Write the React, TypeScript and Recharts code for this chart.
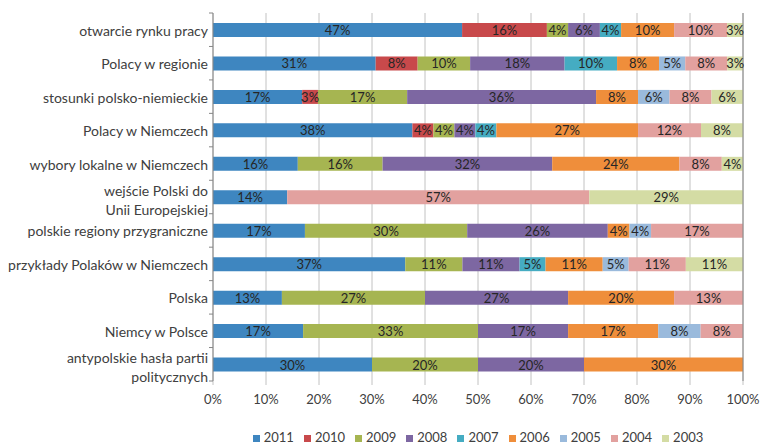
import {
  BarChart,
  Bar,
  XAxis,
  YAxis,
  CartesianGrid,
  Legend,
  LabelList,
  ReferenceLine,
} from "recharts";

const categories = [
  "otwarcie rynku pracy",
  "Polacy w regionie",
  "stosunki polsko-niemieckie",
  "Polacy w Niemczech",
  "wybory lokalne w Niemczech",
  "wejście Polski do\nUnii Europejskiej",
  "polskie regiony przygraniczne",
  "przykłady Polaków w Niemczech",
  "Polska",
  "Niemcy w Polsce",
  "antypolskie hasła partii\npolitycznych",
];

const s2011 = [47, 31, 17, 38, 16, 14, 17, 37, 13, 17, 30];
const s2010 = [16, 8, 3, 4, 0, 0, 0, 0, 0, 0, 0];
const s2009 = [4, 10, 17, 4, 16, 0, 30, 11, 27, 33, 20];
const s2008 = [6, 18, 36, 4, 32, 0, 26, 11, 27, 17, 20];
const s2007 = [4, 10, 0, 4, 0, 0, 0, 5, 0, 0, 0];
const s2006 = [10, 8, 8, 27, 24, 0, 4, 11, 20, 17, 30];
const s2005 = [0, 5, 6, 0, 0, 0, 4, 5, 0, 8, 0];
const s2004 = [10, 8, 8, 12, 8, 57, 17, 11, 13, 8, 0];
const s2003 = [3, 3, 6, 8, 4, 29, 0, 11, 0, 0, 0];

const xTicks = [0, 0.1, 0.2, 0.3, 0.4, 0.5, 0.6, 0.7, 0.8, 0.9, 1];

const series = [
  { key: "y2011", name: "2011", values: s2011, color: "#3E86C0" },
  { key: "y2010", name: "2010", values: s2010, color: "#C8494B" },
  { key: "y2009", name: "2009", values: s2009, color: "#A6B551" },
  { key: "y2008", name: "2008", values: s2008, color: "#7D67A2" },
  { key: "y2007", name: "2007", values: s2007, color: "#45ACC2" },
  { key: "y2006", name: "2006", values: s2006, color: "#EF8E3B" },
  { key: "y2005", name: "2005", values: s2005, color: "#9ABADC" },
  { key: "y2004", name: "2004", values: s2004, color: "#E2A19F" },
  { key: "y2003", name: "2003", values: s2003, color: "#D4DCA4" },
];

const data = categories.map((name, i) => {
  const row: Record<string, string | number> = { name };
  series.forEach((s) => {
    row[s.key] = s.values[i];
  });
  return row;
});

const FONT = "Lato, 'Open Sans', sans-serif";
const TICK_SIZE = 5;
const TICK_MARGIN = 0;

// category label, plus the small outside tick at the band edges
function CategoryTick(props: any) {
  const { x, y, payload, index, visibleTicksCount } = props;
  const half = payload?.offset || 16.7;
  const axisX = x + TICK_SIZE + TICK_MARGIN;
  const lines = String(payload.value).split("\n");
  const lineH = 19;
  const startY = y - ((lines.length - 1) * lineH) / 2 + (lines.length > 1 ? 2 : 0);
  const last = index === (visibleTicksCount ?? categories.length) - 1;
  return (
    <g>
      <line x1={axisX - 4} x2={axisX} y1={y - half} y2={y - half} stroke="#868686" />
      {last && (
        <line x1={axisX - 4} x2={axisX} y1={y + half} y2={y + half} stroke="#868686" />
      )}
      <text
        x={x}
        y={startY}
        textAnchor="end"
        dominantBaseline="central"
        fill="#404040"
        fontSize={14}
        fontFamily={FONT}
      >
        {lines.map((l, i) => (
          <tspan key={i} x={x} dy={i === 0 ? 0 : lineH}>
            {l}
          </tspan>
        ))}
      </text>
    </g>
  );
}

function SegmentLabel(props: any) {
  const { x, y, width, height, value } = props;
  if (!value) return null;
  return (
    <text
      x={x + width / 2}
      y={y + height / 2}
      textAnchor="middle"
      dominantBaseline="central"
      fill="#262626"
      fontSize={13}
      fontFamily={FONT}
    >
      {`${value}%`}
    </text>
  );
}

export default function App() {
  return (
    <div style={{ position: "absolute", left: 0, top: 0, background: "#fff" }}>
      <BarChart
        width={765}
        height={445}
        data={data}
        layout="vertical"
        stackOffset="expand"
        barSize={14}
        margin={{ top: 13, right: 22, bottom: 0, left: 0 }}
      >
        <CartesianGrid horizontal={false} stroke="#c2c2c2" />
        <XAxis
          type="number"
          domain={[0, 1]}
          ticks={xTicks}
          tickFormatter={(v: number) => `${Math.round(v * 100)}%`}
          axisLine={false}
          tickLine={{ stroke: "#c2c2c2" }}
          tickSize={4}
          tickMargin={10}
          height={48}
          tick={{ fill: "#404040", fontSize: 13, fontFamily: FONT }}
        />
        <YAxis
          type="category"
          dataKey="name"
          width={213}
          interval={0}
          tickSize={TICK_SIZE}
          tickMargin={TICK_MARGIN}
          tickLine={false}
          axisLine={{ stroke: "#868686" }}
          tick={<CategoryTick />}
        />
        <ReferenceLine x={1} stroke="#868686" />
        <Legend
          verticalAlign="bottom"
          iconType="square"
          iconSize={7}
          itemSorter={(item: any) => -Number(item.value)}
          wrapperStyle={{
            fontFamily: FONT,
            fontSize: 13,
            lineHeight: "16px",
            left: 218,
            width: 530,
          }}
          formatter={(v: string) => <span style={{ color: "#404040" }}>{v}</span>}
        />
        {series.map((s) => (
          <Bar
            key={s.key}
            dataKey={s.key}
            name={s.name}
            stackId="a"
            fill={s.color}
            isAnimationActive={false}
          >
            <LabelList
              dataKey={s.key}
              valueAccessor={(entry: any) => entry?.payload?.[s.key] ?? entry?.[s.key]}
              content={<SegmentLabel />}
            />
          </Bar>
        ))}
      </BarChart>
    </div>
  );
}
